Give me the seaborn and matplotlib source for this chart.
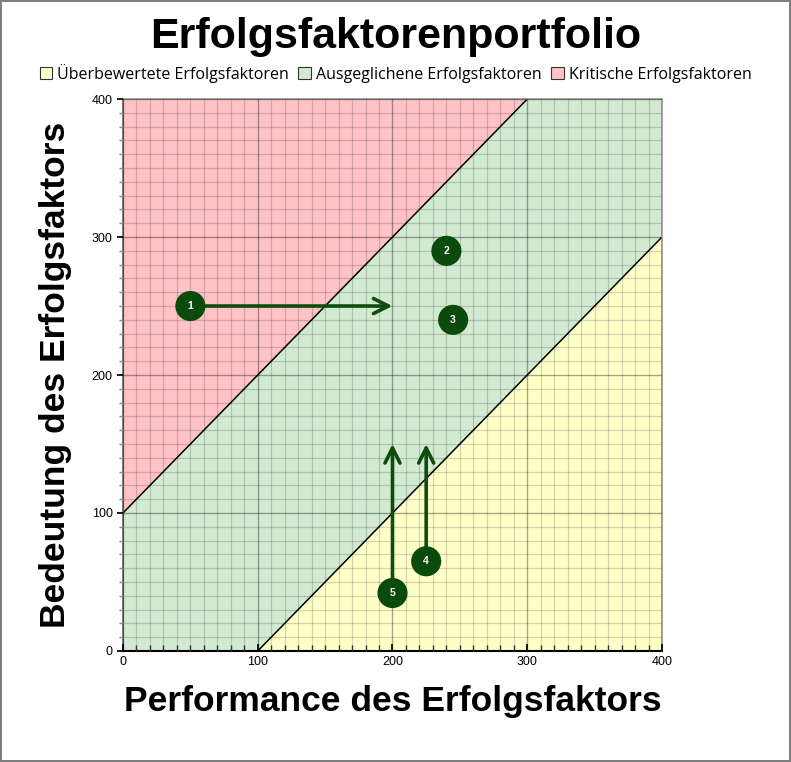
import matplotlib
matplotlib.use("Agg")
import matplotlib.pyplot as plt
import matplotlib.patches as mpatches
import seaborn as sns
import numpy as np
import pandas as pd

# Erfolgsfaktoren: Performance (x) und Bedeutung (y)
faktor_ids = ["1", "2", "3", "4", "5"]
performance = [50, 240, 245, 225, 200]
bedeutung = [250, 290, 240, 65, 42]

# Pfeile (Entwicklungsrichtung) je Faktor: Start -> Ziel
pfeil_ids = ["1", "4", "5"]
pfeil_ziel_x = [200, 225, 200]
pfeil_ziel_y = [250, 150, 150]

# Grenzlinien der Zonen (Abstand zur Diagonalen)
zonen_offset = [100, -100]
achse_max = 400

legenden_texte = ["Überbewertete Erfolgsfaktoren", "Ausgeglichene Erfolgsfaktoren",
                  "Kritische Erfolgsfaktoren"]
zonen_farben = ["#FFFFC8", "#D2EAD2", "#FFC2C6"]

sns.set_theme(style="white")
plt.rcParams["font.family"] = ["Liberation Sans", "DejaVu Sans"]
plt.rcParams["text.color"] = "black"
plt.rcParams["axes.labelcolor"] = "black"
plt.rcParams["xtick.color"] = "black"
plt.rcParams["ytick.color"] = "black"

fig = plt.figure(figsize=(7.91, 7.62), dpi=100)
fig.patch.set_edgecolor("#7f7f7f")
fig.patch.set_linewidth(1.5)
ax = fig.add_axes([0.1555, 0.1457, 0.6814, 0.7243])

xs = np.array([0, achse_max])
upper = xs + zonen_offset[0]
lower = xs + zonen_offset[1]
ax.fill_between(xs, upper, achse_max + 200, color=zonen_farben[2], lw=0, zorder=0)
ax.fill_between(xs, lower, upper, color=zonen_farben[1], lw=0, zorder=0)
ax.fill_between(xs, -200, lower, color=zonen_farben[0], lw=0, zorder=0)
ax.plot(xs, upper, color="black", lw=1.1, zorder=2)
ax.plot(xs, lower, color="black", lw=1.1, zorder=2)

ax.set_xlim(0, achse_max)
ax.set_ylim(0, achse_max)
ax.set_xticks(np.arange(0, achse_max + 1, 100))
ax.set_yticks(np.arange(0, achse_max + 1, 100))
ax.set_xticks(np.arange(0, achse_max + 1, 10), minor=True)
ax.set_yticks(np.arange(0, achse_max + 1, 10), minor=True)
ax.grid(which="minor", color="black", alpha=0.17, lw=0.9, zorder=1)
ax.grid(which="major", color="black", alpha=0.35, lw=1.0, zorder=1)
ax.set_axisbelow(False)
ax.tick_params(axis="x", which="minor", direction="in", length=4, bottom=True, color="#333333")
ax.tick_params(axis="x", which="major", direction="in", length=5, bottom=True, labelsize=9)
ax.tick_params(axis="y", which="minor", direction="out", length=3, left=True, color="#888888")
ax.tick_params(axis="y", which="major", direction="out", length=4, left=True, labelsize=9)
for s in ["top", "right"]:
    ax.spines[s].set_color("#999999")
ax.spines["left"].set_color("#666666")
ax.spines["bottom"].set_color("black")
ax.spines["bottom"].set_linewidth(1.5)

pos = dict(zip(faktor_ids, zip(performance, bedeutung)))
for pid, tx, ty in zip(pfeil_ids, pfeil_ziel_x, pfeil_ziel_y):
    ax.annotate("", xy=(tx, ty), xytext=pos[pid],
                arrowprops=dict(arrowstyle="->,head_length=0.9,head_width=0.45",
                                color="#0E4D0E", lw=2.6, shrinkA=0, shrinkB=0),
                zorder=3)

df = pd.DataFrame({"Performance": performance, "Bedeutung": bedeutung, "id": faktor_ids})
sns.scatterplot(data=df, x="Performance", y="Bedeutung", s=470, color="#0A4A0A",
                edgecolor="none", ax=ax, zorder=4, legend=False)
for fid, x, y in zip(faktor_ids, performance, bedeutung):
    ax.text(x, y, fid, color="white", ha="center", va="center", fontsize=7.5,
            fontweight="bold", zorder=5)

ax.set_xlabel("Performance des Erfolgsfaktors", fontsize=25.5, fontweight="bold", labelpad=12)
ax.set_ylabel("Bedeutung des Erfolgsfaktors", fontsize=25.5, fontweight="bold", labelpad=14)

fig.text(0.5, 0.951, "Erfolgsfaktorenportfolio", ha="center", va="center",
         fontsize=31, fontweight="bold")

handles = [mpatches.Patch(facecolor=c, edgecolor="#333333", lw=0.8) for c in zonen_farben]
fig.legend(handles, legenden_texte, loc="center", bbox_to_anchor=(0.5, 0.904), ncol=3,
           frameon=False, handlelength=0.8, handleheight=0.8,
           handletextpad=0.3, columnspacing=0.6, prop={"family": "Open Sans", "size": 11.5})

fig.savefig("out.png", dpi=100)
